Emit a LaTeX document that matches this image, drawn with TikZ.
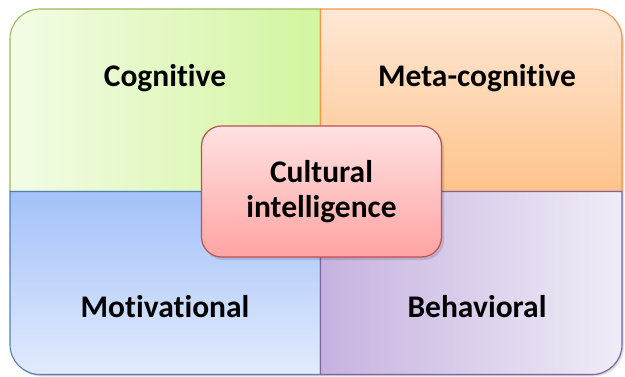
\documentclass[tikz,border=0pt]{standalone}
\usepackage{fontspec}
\setmainfont[Ligatures={NoCommon,NoContextual}]{Carlito}
\begin{document}
\begin{tikzpicture}[x=1pt,y=1pt,
  lab/.style={font=\fontsize{31.5}{35}\selectfont\bfseries, text=black, align=center, inner sep=0pt},
  quad/.style={line width=1.1pt},
  centerbox/.style={draw=cred, line width=1.2pt, rounded corners=20pt, top color=ctop, bottom color=cbot,
     minimum width=240pt, minimum height=131pt, inner sep=0pt}
]
\definecolor{gL}{HTML}{F3FCE6}\definecolor{gR}{HTML}{D3F5A0}\definecolor{gB}{HTML}{9BBB59}
\definecolor{oT}{HTML}{FFE8D6}\definecolor{oB}{HTML}{FEC38B}\definecolor{oD}{HTML}{F79646}
\definecolor{bT}{HTML}{A3C1F9}\definecolor{bB}{HTML}{E2EBFD}\definecolor{bD}{HTML}{4F81BD}
\definecolor{pL}{HTML}{C6B2E0}\definecolor{pR}{HTML}{F0ECF7}\definecolor{pD}{HTML}{8064A2}
\definecolor{ctop}{HTML}{FFE2E2}\definecolor{cbot}{HTML}{FFA3A3}\definecolor{cred}{HTML}{C0504D}
\useasboundingbox (0,0) rectangle (625,376);
% shadow of outer frame
\fill[black, opacity=0.10, rounded corners=30pt] (11.5,-0.5) rectangle (624,366);
\fill[black, opacity=0.10, rounded corners=30pt] (11,0.2) rectangle (623,366.5);
% green (top-left)
\draw[quad, draw=gB, left color=gL, right color=gR]
  (10,184.5) -- (10,300) [rounded corners=30pt] -- (10,367) -- (100,367) [sharp corners] -- (320.5,367) -- (320.5,184.5) -- cycle;
% orange (top-right)
\draw[quad, draw=oD, top color=oT, bottom color=oB]
  (320.5,184.5) -- (320.5,367) -- (520,367) [rounded corners=30pt] -- (622,367) -- (622,300) [sharp corners] -- (622,184.5) -- cycle;
% blue (bottom-left)
\draw[quad, draw=bD, top color=bT, bottom color=bB]
  (320.5,184.5) -- (10,184.5) -- (10,80) [rounded corners=30pt] -- (10,1.5) -- (100,1.5) [sharp corners] -- (320.5,1.5) -- cycle;
% purple (bottom-right)
\draw[quad, draw=pD, left color=pL, right color=pR]
  (320.5,184.5) -- (320.5,1.5) -- (520,1.5) [rounded corners=30pt] -- (622,1.5) -- (622,80) [sharp corners] -- (622,184.5) -- cycle;
% labels
\node[lab] (cog) at (165,298) {Cognitive};
\node[lab] (meta) at (477,298) {Meta-cognitive};
\node[lab] (mot) at (165,69) {Motivational};
\node[lab] (beh) at (477,69) {Behavioral};
% center box shadow + box
\fill[black, opacity=0.12, rounded corners=20pt] (203.5,116) rectangle (444,248.5);
\node[centerbox] (ci) at (321.5,184.5) {};
\node[lab] (citext) at (ci.center) {Cultural\\intelligence};
\end{tikzpicture}
\end{document}
